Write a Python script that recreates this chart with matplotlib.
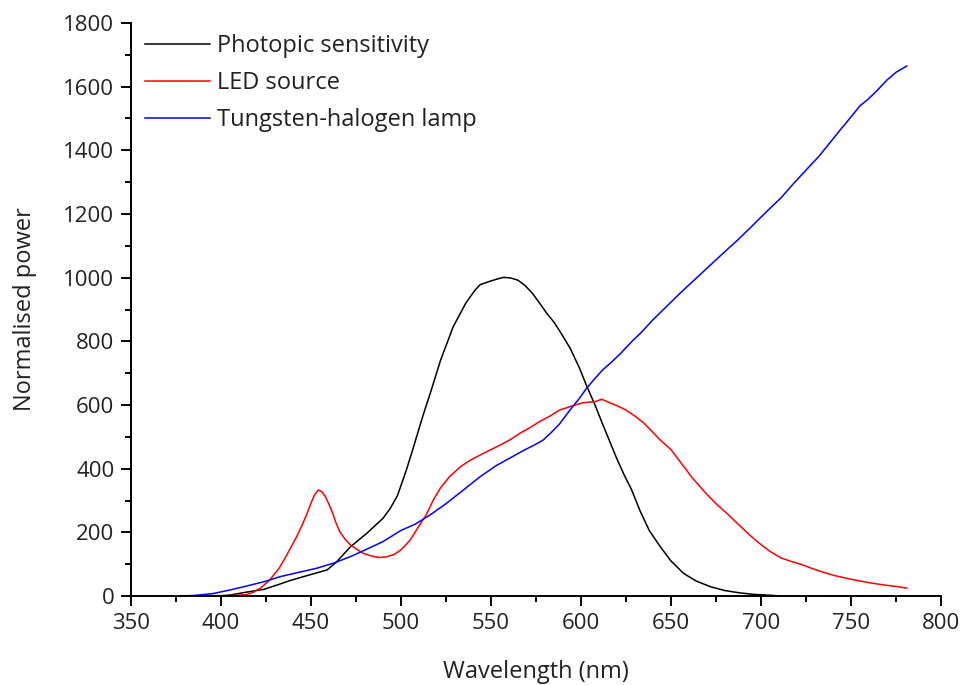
import matplotlib
matplotlib.use("Agg")
import matplotlib.pyplot as plt
from matplotlib.ticker import MultipleLocator

plt.rcParams['font.family'] = ['Open Sans', 'DejaVu Sans']

photopic_nm = [390, 400, 405, 414, 424, 433, 438, 449, 459, 464, 472, 481, 490, 494, 498, 503,
               507, 512, 517, 522, 529, 536, 541, 544, 549, 553, 557, 561, 565, 569, 573, 577,
               581, 585, 589, 594, 599, 603, 608, 612, 616, 620, 624, 628, 633, 638, 644, 650,
               657, 664, 672, 680, 688, 696, 703, 712]
photopic = [0, 1, 3, 12, 21, 38, 48, 66, 82, 106, 155, 197, 244, 275, 315, 396,
            469, 563, 650, 741, 846, 920, 960, 978, 988, 995, 1001, 999, 992, 975, 951, 920,
            888, 860, 825, 778, 718, 662, 597, 540, 485, 430, 380, 335, 265, 205, 155, 110,
            71, 47, 29, 17, 10, 5, 3, 0]

led_nm = [395, 405, 414, 418, 422, 427, 432, 435, 442, 445, 448, 450, 452, 454, 456, 458,
          460, 462, 464, 466, 469, 472, 476, 479, 484, 488, 492, 496, 500, 505, 510, 514,
          518, 522, 527, 533, 538, 544, 550, 555, 561, 566, 572, 577, 583, 588, 594, 601,
          608, 611.5, 616, 620, 625, 630, 635, 644, 650, 656, 662, 669, 675, 681, 688, 694,
          699, 705, 711, 716, 722, 729, 735, 741, 748, 755, 762, 768, 775, 781]
led = [0, 1, 4, 12, 25, 50, 85, 113, 186, 222, 262, 292, 318, 333, 328, 312,
       288, 260, 228, 202, 178, 160, 145, 134, 125, 121, 123, 130, 145, 175, 220, 255,
       302, 340, 375, 406, 425, 443, 460, 474, 492, 511, 530, 548, 566, 584, 595, 607,
       611, 618, 607, 598, 584, 565, 543, 490, 460, 415, 370, 325, 290, 260, 222, 190,
       166, 140, 120, 110, 100, 85, 74, 64, 55, 47, 40, 35, 30, 25]

lamp_nm = [378, 386, 396, 405, 414, 424, 433, 443, 453, 463, 472, 481, 490, 500, 508, 516,
           525, 534, 544, 553, 562, 568, 574, 579, 583, 588, 594, 599, 603, 608, 612, 617,
           622, 629, 633, 640, 648, 655, 663, 671, 679, 687, 695, 703, 711, 718, 725, 732,
           738, 744, 750, 755, 759, 764, 770, 775, 781]
lamp = [0, 2, 8, 19, 31, 45, 61, 74, 87, 104, 124, 147, 171, 206, 226, 254,
        290, 330, 375, 410, 438, 457, 474, 490, 511, 540, 585, 620, 652, 685, 710, 735,
        762, 804, 825, 868, 912, 951, 993, 1035, 1077, 1118, 1162, 1207, 1250, 1295, 1338, 1380,
        1422, 1464, 1505, 1540, 1558, 1585, 1621, 1645, 1665]

series_labels = ["Photopic sensitivity", "LED source", "Tungsten-halogen lamp"]

fig = plt.figure(figsize=(9.63, 6.85), dpi=100)
ax = fig.add_axes([131/963, 1-596/685, (941-131)/963, (596-23)/685])

ax.plot(photopic_nm, photopic, color='black', lw=1.1, label=series_labels[0])
ax.plot(led_nm, led, color='#ff0000', lw=1.1, label=series_labels[1])
ax.plot(lamp_nm, lamp, color='#0000ff', lw=1.1, label=series_labels[2])

ax.set_xlim(350, 800)
ax.set_ylim(0, 1800)
ax.xaxis.set_major_locator(MultipleLocator(50))
ax.xaxis.set_minor_locator(MultipleLocator(25))
ax.yaxis.set_major_locator(MultipleLocator(200))
ax.yaxis.set_minor_locator(MultipleLocator(100))
for s in ['top', 'right']:
    ax.spines[s].set_visible(False)
for s in ['left', 'bottom']:
    ax.spines[s].set_linewidth(1.4)
ax.tick_params(which='major', direction='out', length=7, width=1.4, labelsize=16, colors='black', pad=5)
ax.tick_params(which='minor', direction='out', length=4.5, width=1.4)
ax.tick_params(axis='both', labelcolor='#222222')

ax.set_xlabel("Wavelength (nm)", fontsize=17, labelpad=19, color='#222222')
ax.set_ylabel("Normalised power", fontsize=17, labelpad=19, color='#222222')

leg = ax.legend(loc='upper left', bbox_to_anchor=(145/963, 1-34/685), bbox_transform=fig.transFigure,
                frameon=False, fontsize=17, handlelength=2.75, handletextpad=0.3,
                labelspacing=0.55, borderaxespad=0, borderpad=0)
for t in leg.get_texts():
    t.set_color('#222222')

fig.savefig("out.png", dpi=100)
